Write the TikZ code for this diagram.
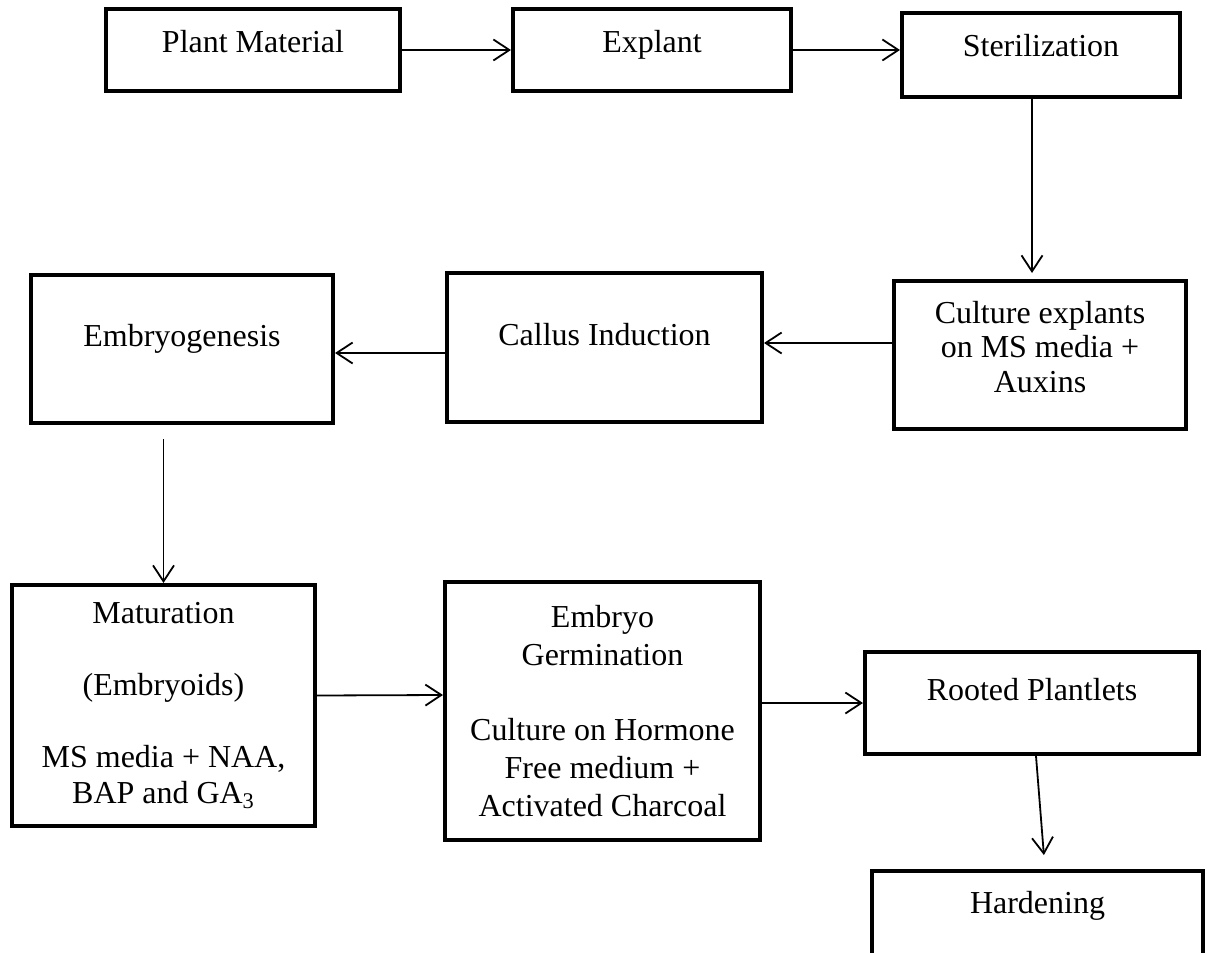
\documentclass[tikz,border=0pt]{standalone}
\usepackage{fontspec}
\setmainfont{Liberation Serif}
\usepackage{tikz}
\usetikzlibrary{calc, positioning, arrows.meta}
\newlength{\px}
\setlength{\px}{0.02cm}
\tikzset{
    protocol/.style={
        x=0.02cm, y=-0.02cm,
        font=\fontsize{18.2pt}{20.5pt}\selectfont,
        block/.style={draw, rectangle, line width=4\px, align=center, inner sep=0pt},
        oneline/.style 2 args={text height=##1\px, text depth=##2\px},
        arrow/.style={line width=1.8\px, -{Straight Barb[length=0.32cm, width=0.42cm]}}
    }
}

\begin{document}
\begin{tikzpicture}[protocol]
        \useasboundingbox (0,0) rectangle (1207,953);

        % Top row
        \node[block, minimum width=294\px, oneline={44}{38}] (plant) at (253,50) {Plant Material};
        \node[block, minimum width=278\px, oneline={44}{38}] (explant) at (652,50) {Explant};
        \node[block, minimum width=278\px, oneline={44}{40}] (steril) at (1041,55) {Sterilization};

        % Middle row
        \node[block, minimum width=292\px, oneline={111}{37}, font=\fontsize{18.2pt}{19.6pt}\selectfont] (cult) at (1040,355) {Culture explants\\on MS media +\\Auxins};
        \node[block, minimum width=315\px, oneline={72}{77}] (callus) at (604.5,347.5) {Callus Induction};
        \node[block, minimum width=302\px, oneline={71}{77}] (embgen) at (182,349) {Embryogenesis};

        % Bottom row
        \node[block, minimum width=303\px, minimum height=241\px] (matur) at (163.5,705.5) {Maturation\\[20.5pt](Embryoids)\\[20.5pt]MS media + NAA,\\BAP and GA\textsubscript{3}};
        \node[block, minimum width=315\px, minimum height=258\px, font=\fontsize{18.2pt}{21.6pt}\selectfont] (germ) at (602.5,711) {Embryo\\Germination\\[21.6pt]Culture on Hormone\\Free medium +\\Activated Charcoal};
        \node[block, minimum width=334\px, oneline={48}{54}] (rooted) at (1032,703) {Rooted Plantlets};
        \node[block, minimum width=331\px, oneline={42}{87}] (harden) at (1037.5,935.5) {Hardening};

        % Flow
        \draw[arrow] (plant.east) -- (explant.west);
        \draw[arrow] (explant.east) -- (explant.east -| steril.west);
        \draw[arrow, shorten >=6\px] ([xshift=-9\px]steril.south) -- ([xshift=-8\px]cult.north);
        \draw[arrow] ([yshift=12\px]cult.west) -- ([yshift=4.5\px]callus.east);
        \draw[arrow] ([yshift=-5.5\px]callus.west) -- ([yshift=-4\px]embgen.east);
        \draw[arrow, shorten <=14\px] (embgen.south -| matur.north) -- (matur.north);
        \draw[arrow] ([yshift=10\px]matur.east) -- ([yshift=16\px]germ.west);
        \draw[arrow] (germ.east |- rooted.west) -- (rooted.west);
        \draw[arrow, shorten >=14\px] ([xshift=4\px]rooted.south) -- ([xshift=7.5\px]harden.north);
    \end{tikzpicture}
\end{document}
